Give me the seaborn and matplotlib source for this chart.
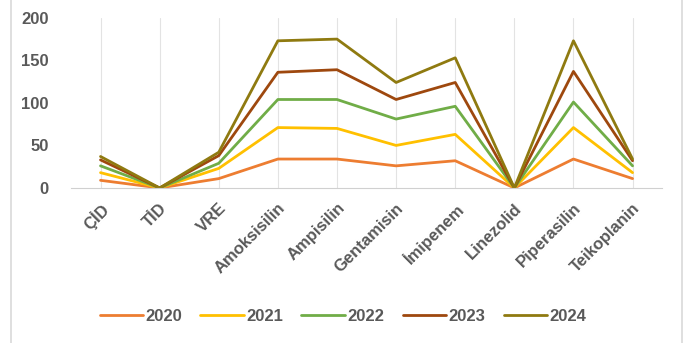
import matplotlib.pyplot as plt
import seaborn as sns
import pandas as pd
import numpy as np
from matplotlib.lines import Line2D

# categories on the x axis
categories = ['ÇİD', 'TİD', 'VRE', 'Amoksisilin', 'Ampisilin', 'Gentamisin',
              'İmipenem', 'Linezolid', 'Piperasilin', 'Teikoplanin']
years = ['2020', '2021', '2022', '2023', '2024']

# yearly values (chart is a stacked line chart)
y2020 = [9, 0, 11, 34, 34, 26, 32, 0, 34, 11]
y2021 = [9, 0, 12, 37, 36, 24, 31, 0, 37, 7]
y2022 = [8, 0, 6, 33, 34, 31, 33, 0, 30, 8]
y2023 = [7, 0, 9, 32, 35, 23, 28, 0, 36, 6]
y2024 = [4, 0, 4, 37, 36, 20, 29, 0, 36, 2]

colors = ['#ED7D31', '#FFC000', '#70AD47', '#9E480E', '#8F7A10']


def build_frame():
    """
    Stacks the yearly values like an Excel stacked line chart
    """
    stacked = np.cumsum(np.array([y2020, y2021, y2022, y2023, y2024]), axis=0)
    rows = []
    for i, year in enumerate(years):
        for j, cat in enumerate(categories):
            rows.append({'kategori': cat, 'yil': year, 'deger': stacked[i][j]})
    return pd.DataFrame(rows)


sns.set_style('white')
plt.rcParams['font.family'] = ['Liberation Sans', 'DejaVu Sans']

fig, ax = plt.subplots(figsize=(6.89, 3.43), dpi=100)
fig.subplots_adjust(left=0.103, right=0.961, bottom=0.452, top=0.948)

df = build_frame()
sns.lineplot(data=df, x='kategori', y='deger', hue='yil', palette=colors,
             sort=False, linewidth=2.0, ax=ax)

ax.set_xlim(-0.5, len(categories) - 0.5)
ax.set_ylim(0, 200)
ax.set_yticks([0, 50, 100, 150, 200])
ax.set_xlabel('')
ax.set_ylabel('')

# faint vertical gridlines at each category
ax.grid(axis='x', color='#e3e3e3', linewidth=0.8)
ax.set_axisbelow(True)
for side in ['top', 'right', 'left']:
    ax.spines[side].set_visible(False)
ax.spines['bottom'].set_color('#d0d0d0')
ax.tick_params(axis='both', length=0, colors='#595959')

for lab in ax.get_yticklabels():
    lab.set_fontsize(12)
    lab.set_fontweight('bold')
ax.tick_params(axis='y', pad=16)
plt.setp(ax.get_xticklabels(), rotation=45, ha='right', va='top',
         rotation_mode='anchor', fontsize=12, fontweight='bold')
ax.tick_params(axis='x', pad=9)

handles, labels = ax.get_legend_handles_labels()
ax.legend(handles, labels, loc='center', bbox_to_anchor=(0.46, -0.755),
          ncol=5, frameon=False, handlelength=2.6, handletextpad=0.15,
          columnspacing=1.1, prop={'size': 12, 'weight': 'bold'},
          labelcolor='#595959')

# light chart border on the sides
fig.add_artist(Line2D([11 / 689, 11 / 689], [0, 1], color='#d9d9d9', linewidth=1.2))
fig.add_artist(Line2D([682 / 689, 682 / 689], [0, 1], color='#d9d9d9', linewidth=1.2))

plt.savefig('out.png', dpi=100)
